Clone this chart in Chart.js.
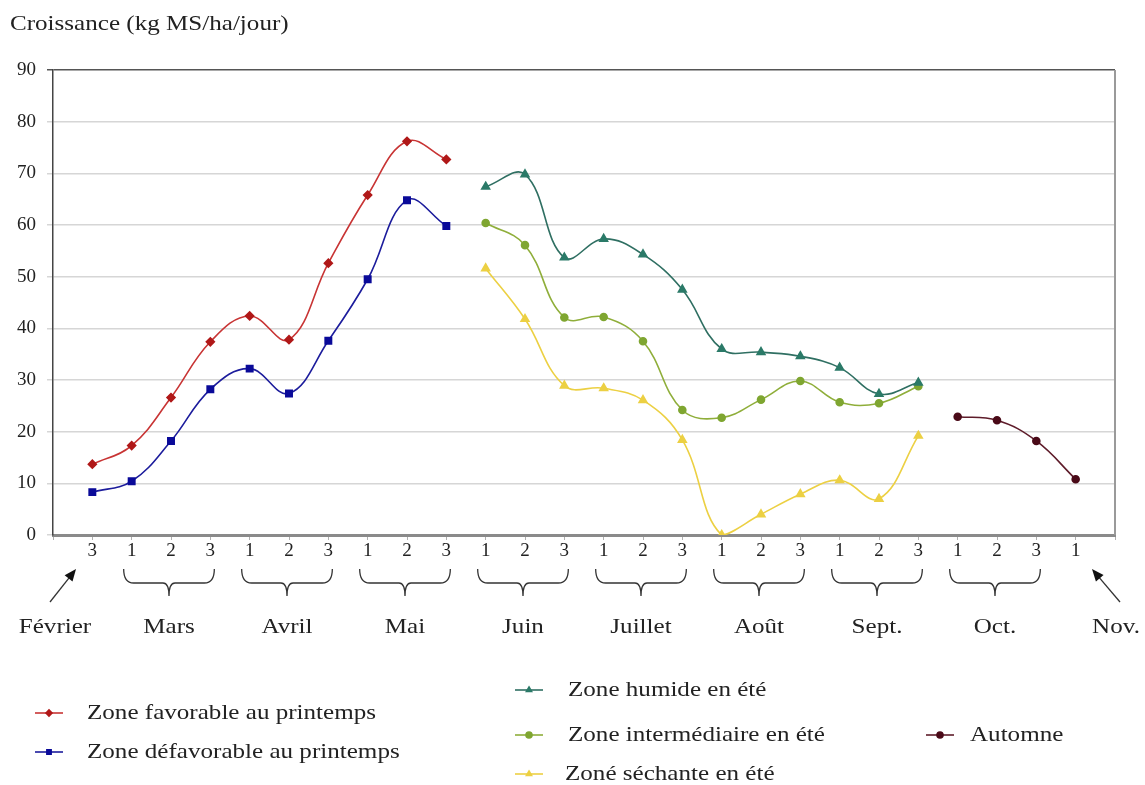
<!DOCTYPE html>
<html>
<head>
<meta charset="utf-8">
<script src="https://cdn.jsdelivr.net/npm/chart.js@4/dist/chart.umd.min.js"></script>
<style>
  html, body { margin: 0; padding: 0; background: #fff; }
  #wrap { width: 1145px; height: 785px; position: relative; }
</style>
</head>
<body>
<div id="wrap"><canvas id="growthChart" width="1145" height="785"></canvas></div>
<script>
// Decades (1, 2, 3) from Feb. 3rd decade to Nov. 1st decade
const periodLabels = ['3','1','2','3','1','2','3','1','2','3','1','2','3','1','2','3','1','2','3','1','2','3','1','2','3','1'];
const monthNames = ['Mars','Avril','Mai','Juin','Juillet','Août','Sept.','Oct.'];
const monthFirst = [1, 4, 7, 10, 13, 16, 19, 22];
const monthLast  = [3, 6, 9, 12, 15, 18, 21, 24];
const yTicks = [0, 10, 20, 30, 40, 50, 60, 70, 80, 90];

// growth values (kg MS/ha/jour), each series starts at a decade index
const favorableStart = 0;
const favorable   = [13.7, 17.3, 26.6, 37.4, 42.4, 37.8, 52.6, 65.8, 76.2, 72.7];
const defavorableStart = 0;
const defavorable = [8.3, 10.4, 18.2, 28.2, 32.2, 27.4, 37.6, 49.5, 64.8, 59.8];
const humideStart = 10;
const humide      = [67.4, 69.8, 53.7, 57.3, 54.3, 47.5, 36.0, 35.4, 34.6, 32.4, 27.3, 29.5];
const interStart = 10;
const intermediaire = [60.4, 56.1, 42.1, 42.2, 37.5, 24.2, 22.7, 26.2, 29.8, 25.7, 25.5, 28.8];
const sechanteStart = 10;
const sechante    = [51.6, 41.8, 28.9, 28.4, 26.1, 18.4, 0, 4.0, 7.9, 10.6, 7.0, 19.2];
const automneStart = 22;
const automne     = [22.9, 22.2, 18.2, 10.8];

const serif = '"Liberation Serif", "DejaVu Serif", serif';
const stretch = 1.14; // the source text is a bit wider than Times

function toPoints(start, values) {
  return values.map((v, i) => ({ x: start + i, y: v }));
}

function series(label, start, values, line, point, style, radius) {
  return {
    label: label,
    data: toPoints(start, values),
    borderColor: line,
    backgroundColor: point,
    pointBackgroundColor: point,
    pointBorderColor: point,
    pointStyle: style,
    pointRadius: radius,
    borderWidth: 1.6,
    tension: 0.4,
    fill: false
  };
}

// legend layout: [dataset index, marker left x, middle y, text x]
const legendSlots = [
  [0, 35, 713, 87],
  [1, 35, 752, 87],
  [2, 515, 690, 568],
  [3, 515, 735, 568],
  [4, 515, 774, 565],
  [5, 926, 735, 970]
];

// draw text horizontally widened; align 'left' or 'center'
function wideText(ctx, text, x, y, align) {
  const w = ctx.measureText(text).width * stretch;
  const left = align === 'center' ? x - w / 2 : x;
  ctx.save();
  ctx.textAlign = 'left';
  ctx.translate(left, y);
  ctx.scale(stretch, 1);
  ctx.fillText(text, 0, 0);
  ctx.restore();
}

function drawArrow(ctx, x0, y0, x1, y1) {
  const a = Math.atan2(y1 - y0, x1 - x0);
  ctx.strokeStyle = '#333';
  ctx.fillStyle = '#111';
  ctx.lineWidth = 1.3;
  ctx.beginPath();
  ctx.moveTo(x0, y0);
  ctx.lineTo(x1 - 8 * Math.cos(a), y1 - 8 * Math.sin(a));
  ctx.stroke();
  ctx.beginPath();
  ctx.moveTo(x1, y1);
  ctx.lineTo(x1 - 12 * Math.cos(a) + 5 * Math.sin(a), y1 - 12 * Math.sin(a) - 5 * Math.cos(a));
  ctx.lineTo(x1 - 12 * Math.cos(a) - 5 * Math.sin(a), y1 - 12 * Math.sin(a) + 5 * Math.cos(a));
  ctx.closePath();
  ctx.fill();
}

const decorPlugin = {
  id: 'decor',
  beforeDatasetsDraw(chart) {
    const { ctx, chartArea } = chart;
    ctx.save();
    ctx.strokeStyle = '#9a9a9a';
    ctx.lineWidth = 2;
    ctx.beginPath();
    ctx.moveTo(chartArea.right, chartArea.top);
    ctx.lineTo(chartArea.right, chartArea.bottom);
    ctx.stroke();
    ctx.restore();
  },
  afterDraw(chart) {
    const { ctx } = chart;
    const xs = chart.scales.x;
    ctx.save();
    ctx.fillStyle = '#222';
    ctx.font = '22px ' + serif;
    ctx.textBaseline = 'middle';

    // y axis title
    wideText(ctx, 'Croissance (kg MS/ha/jour)', 10, 24, 'left');

    // month brackets and names
    ctx.strokeStyle = '#333';
    ctx.lineWidth = 1.3;
    monthNames.forEach((name, i) => {
      const x0 = xs.getPixelForValue(monthFirst[i]) - 8;
      const x1 = xs.getPixelForValue(monthLast[i]) + 4;
      const xm = (x0 + x1) / 2;
      ctx.beginPath();
      ctx.moveTo(x0, 569);
      ctx.quadraticCurveTo(x0, 583, x0 + 10, 583);
      ctx.lineTo(xm - 6, 583);
      ctx.quadraticCurveTo(xm, 583, xm, 596);
      ctx.quadraticCurveTo(xm, 583, xm + 6, 583);
      ctx.lineTo(x1 - 10, 583);
      ctx.quadraticCurveTo(x1, 583, x1, 569);
      ctx.stroke();
      wideText(ctx, name, xm, 627, 'center');
    });
    wideText(ctx, 'Février', 55, 627, 'center');
    wideText(ctx, 'Nov.', 1116, 627, 'center');

    // arrows pointing to first and last decade
    drawArrow(ctx, 50, 602, 76, 569);
    drawArrow(ctx, 1120, 602, 1092, 569);

    // legend
    legendSlots.forEach(([di, mx, y, tx]) => {
      const ds = chart.data.datasets[di];
      ctx.strokeStyle = ds.borderColor;
      ctx.lineWidth = 1.6;
      ctx.beginPath();
      ctx.moveTo(mx, y);
      ctx.lineTo(mx + 28, y);
      ctx.stroke();
      ctx.fillStyle = ds.pointBackgroundColor;
      ctx.strokeStyle = ds.pointBackgroundColor;
      Chart.helpers.drawPoint(ctx, { pointStyle: ds.pointStyle, radius: 3, rotation: 0, borderWidth: 1 }, mx + 14, y);
      ctx.fillStyle = '#222';
      wideText(ctx, ds.label, tx, y, 'left');
    });
    ctx.restore();
  }
};

new Chart(document.getElementById('growthChart'), {
  type: 'line',
  data: {
    datasets: [
      series('Zone favorable au printemps', favorableStart, favorable, '#c83434', '#b01818', 'rectRot', 4),
      series('Zone défavorable au printemps', defavorableStart, defavorable, '#1c1c9c', '#0a0a99', 'rect', 4.5),
      series('Zone humide en été', humideStart, humide, '#2f6f62', '#2b7a68', 'triangle', 4.5),
      series('Zone intermédiaire en été', interStart, intermediaire, '#8fae3a', '#7fa631', 'circle', 3.5),
      series('Zoné séchante en été', sechanteStart, sechante, '#ecd043', '#ecd043', 'triangle', 4.5),
      series('Automne', automneStart, automne, '#5e1c2a', '#4a0a18', 'circle', 3.5)
    ]
  },
  options: {
    responsive: false,
    animation: false,
    layout: { padding: { left: 0, top: 70, right: 30, bottom: 212 } },
    plugins: { legend: { display: false }, tooltip: { enabled: false } },
    scales: {
      x: {
        type: 'linear',
        min: -1,
        max: 26,
        afterFit(scale) { scale.height = 38; },
        afterBuildTicks(scale) {
          scale.ticks = [];
          for (let i = -1; i <= 26; i++) scale.ticks.push({ value: i });
        },
        ticks: {
          autoSkip: false,
          maxRotation: 0,
          padding: 0,
          color: '#222',
          font: { family: serif, size: 19 },
          callback: (v) => periodLabels[v] ?? ''
        },
        grid: { drawOnChartArea: false, drawTicks: true, tickLength: 5, color: '#b0b0b0' },
        border: { color: '#8a8a8a', width: 3 }
      },
      y: {
        min: 0,
        max: 90,
        afterFit(scale) { scale.width = 53; },
        afterBuildTicks(scale) { scale.ticks = yTicks.map(v => ({ value: v })); },
        ticks: {
          padding: 11,
          color: '#222',
          font: { family: serif, size: 19 }
        },
        grid: {
          color: (c) => c.tick && c.tick.value === 90 ? '#555' : '#d6d6d6',
          lineWidth: 1.5,
          tickLength: 6
        },
        border: { color: '#444', width: 1.5 }
      }
    }
  },
  plugins: [decorPlugin]
});
</script>
</body>
</html>
